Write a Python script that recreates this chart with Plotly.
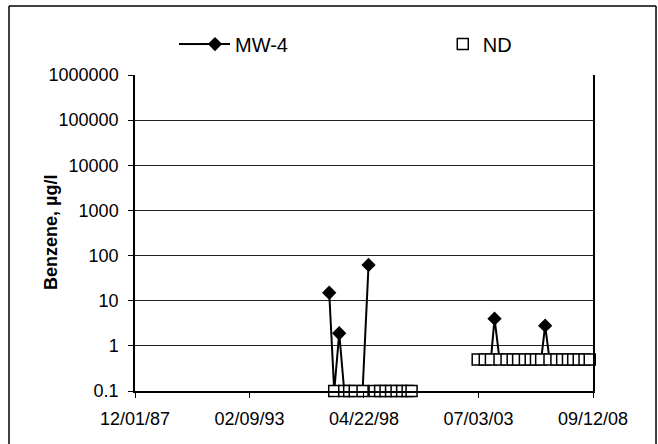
import plotly.graph_objects as go

# MW-4 benzene results; non-detects are carried at the detection limit so the
# line drops to the ND level, and None breaks the line between sampling periods
mw4_dates = ["1996-09-23", "1996-12-15", "1997-03-08", "1997-05-30", "1998-03-30",
             "1998-07-07", "2001-01-01", "2004-01-25", "2004-03-25", "2004-06-16",
             "2006-05-07", "2006-07-12", "2006-09-22"]
mw4_values = [15, 0.1, 1.9, 0.1, 0.1, 62, None, 0.5, 4, 0.5, 0.5, 2.8, 0.5]
mw4_detected = [True, False, True, False, False, True, False, False, True, False,
                False, True, False]

# Non-detect sampling events, plotted at the reporting limit
nd_dates_low = ["1996-12-15", "1997-05-30", "1997-08-20", "1997-11-20", "1998-03-30",
                "1998-10-15", "1999-01-15", "1999-04-15", "1999-07-15", "1999-10-15",
                "2000-01-15", "2000-04-15", "2000-06-19"]
nd_values_low = [0.1] * len(nd_dates_low)
nd_dates_high = ["2003-06-20", "2003-10-15", "2004-01-25", "2004-06-16", "2004-10-10",
                 "2005-01-20", "2005-04-20", "2005-08-10", "2005-11-15", "2006-02-10",
                 "2006-05-07", "2006-09-22", "2007-01-15", "2007-04-20", "2007-07-25",
                 "2007-10-20", "2008-01-20", "2008-04-25", "2008-07-20", "2008-09-15"]
nd_values_high = [0.5] * len(nd_dates_high)

x_tick_dates = ["1987-12-01", "1993-02-09", "1998-04-22", "2003-07-03", "2008-09-12"]
x_tick_text = ["12/01/87", "02/09/93", "04/22/98", "07/03/03", "09/12/08"]
y_tick_vals = [0.1, 1, 10, 100, 1000, 10000, 100000, 1000000]
y_tick_text = ["0.1", "1", "10", "100", "1000", "10000", "100000", "1000000"]

FONT = "Liberation Sans, Arial, sans-serif"
LEGEND_Y = 1.098

fig = go.Figure()

fig.add_trace(go.Scatter(
    x=mw4_dates, y=mw4_values, name="MW-4", mode="lines+markers",
    legend="legend",
    line=dict(color="black", width=2),
    marker=dict(symbol="diamond", size=11,
                color=["black" if d else "rgba(0,0,0,0)" for d in mw4_detected],
                line=dict(width=0)),
    connectgaps=False,
))

fig.add_trace(go.Scatter(
    x=nd_dates_low + nd_dates_high, y=nd_values_low + nd_values_high,
    name="ND", mode="markers", cliponaxis=False,
    legend="legend2",
    marker=dict(symbol="square", size=11, color="white",
                line=dict(color="black", width=1.5)),
))

# outer chart frame
for x0, y0, x1, y1 in [(-0.2751, 1.2184, 1.1376, 1.2184),
                       (-0.2751, 1.2184, -0.2751, -0.18),
                       (1.1376, 1.2184, 1.1376, -0.18)]:
    fig.add_shape(type="line", xref="paper", yref="paper",
                  x0=x0, y0=y0, x1=x1, y1=y1, line=dict(color="black", width=1.5))

# longer lead-in for the MW-4 legend line
fig.add_shape(type="line", xref="paper", yref="paper",
              x0=0.096, x1=0.16, y0=LEGEND_Y, y1=LEGEND_Y,
              line=dict(color="black", width=2))

fig.add_annotation(text="<b>Benzene, µg/l</b>", xref="paper", yref="paper",
                   x=-0.2096, y=0.5, textangle=-90, showarrow=False,
                   font=dict(family=FONT, size=18, color="black"))

legend_common = dict(orientation="h", yanchor="middle", xanchor="left", y=LEGEND_Y,
                     font=dict(family=FONT, size=20, color="black"),
                     bgcolor="rgba(0,0,0,0)", borderwidth=0)

fig.update_layout(
    width=658, height=444,
    margin=dict(l=135, r=65, t=75, b=53),
    paper_bgcolor="white", plot_bgcolor="white",
    font=dict(family=FONT, size=18, color="black"),
    showlegend=True,
    legend=dict(x=0.131, **legend_common),
    legend2=dict(x=0.672, **legend_common),
    xaxis=dict(
        type="date", range=["1987-12-01", "2008-09-12"],
        tickvals=x_tick_dates, ticktext=x_tick_text,
        showgrid=False, zeroline=False,
        showline=True, linecolor="black", linewidth=1.5, mirror=False,
        ticks="outside", ticklen=5, tickcolor="black",
        ticklabelstandoff=6,
    ),
    yaxis=dict(
        type="log", range=[-1, 6],
        tickvals=y_tick_vals, ticktext=y_tick_text,
        showgrid=True, gridcolor="#222", gridwidth=1,
        showline=True, linecolor="black", linewidth=1.5, mirror=True,
        ticks="outside", ticklen=5, tickcolor="black",
        ticklabelstandoff=6,
    ),
)

fig.write_html("out.html")
